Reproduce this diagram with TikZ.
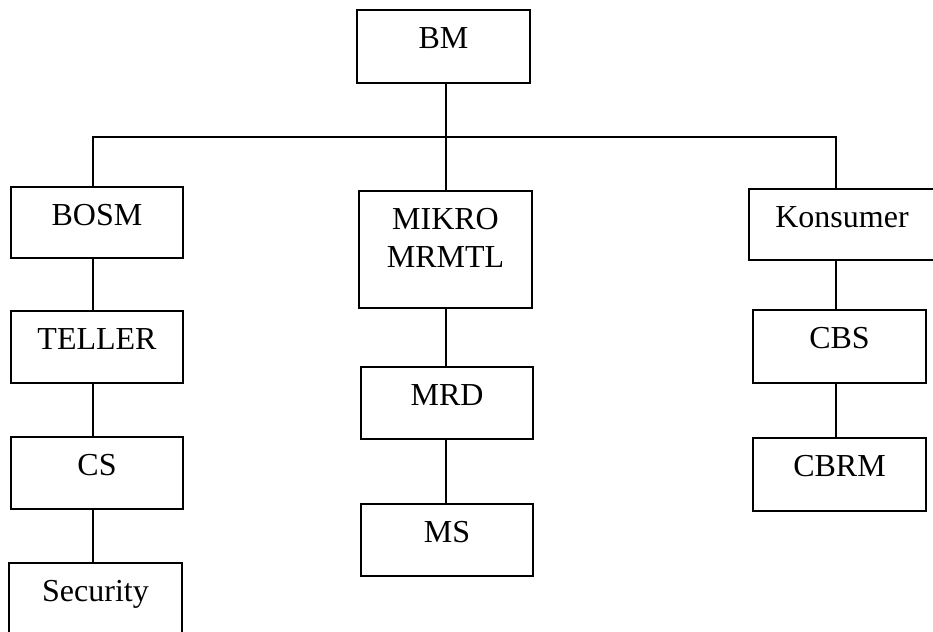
\documentclass[tikz,border=0pt]{standalone}
\usepackage{fontspec}
\setmainfont{Liberation Serif}
\usetikzlibrary{positioning}
\definecolor{orgInk}{HTML}{000000}
\tikzset{
  every picture/.style={font=\fontsize{32}{38}\selectfont, text=orgInk},
  org box/.style={draw=orgInk, line width=1.8pt, fill=white, align=center,
    anchor=north, inner sep=0pt, minimum width=172pt,
    text height=39pt, text depth=33pt},
  org line/.style={draw=orgInk, line width=1.4pt}
}

\begin{document}
\begin{tikzpicture}[x=1pt,y=-1pt]
  \path[use as bounding box, clip] (0,0) rectangle (933,631);
  % top
  \node[org box, minimum width=173pt, text depth=34pt] (bm) at (443.5,9) {BM};
  % left column
  \node[org box, text depth=32pt] (bosm) at (97,186) {BOSM};
  \node[org box] (teller) at (97,310) {TELLER};
  \node[org box] (cs) at (97,436) {CS};
  \node[org box, minimum width=173pt] (security) at (95.5,562) {Security};
  % middle column
  \node[org box, minimum width=173pt, text height=77pt, text depth=40pt]
    (mikro) at (445.5,190) {MIKRO\\MRMTL};
  \node[org box] (mrd) at (447,366) {MRD};
  \node[org box] (ms) at (447,503) {MS};
  % right column
  \node[org box, minimum width=186pt, text depth=32pt] (kons) at (842,188) {Konsumer};
  \node[org box, minimum width=173pt, text depth=34pt] (cbs) at (839.5,309) {CBS};
  \node[org box, minimum width=173pt, text depth=34pt] (cbrm) at (839.5,437) {CBRM};
  % connectors
  \coordinate (hub) at (446,137);
  \coordinate (dropL) at (93,137);
  \coordinate (dropR) at (836,137);
  \draw[org line] (bm.south -| hub) -- (hub) -- (hub |- mikro.north);
  \draw[org line] (dropL |- bosm.north) -- (dropL) -- (dropR) -- (dropR |- kons.north);
  \draw[org line] (bosm.south -| dropL) -- (teller.north -| dropL);
  \draw[org line] (teller.south -| dropL) -- (cs.north -| dropL);
  \draw[org line] (cs.south -| dropL) -- (security.north -| dropL);
  \draw[org line] (mikro.south -| hub) -- (mrd.north -| hub);
  \draw[org line] (mrd.south -| hub) -- (ms.north -| hub);
  \draw[org line] (kons.south -| dropR) -- (cbs.north -| dropR);
  \draw[org line] (cbs.south -| dropR) -- (cbrm.north -| dropR);
\end{tikzpicture}
\end{document}
